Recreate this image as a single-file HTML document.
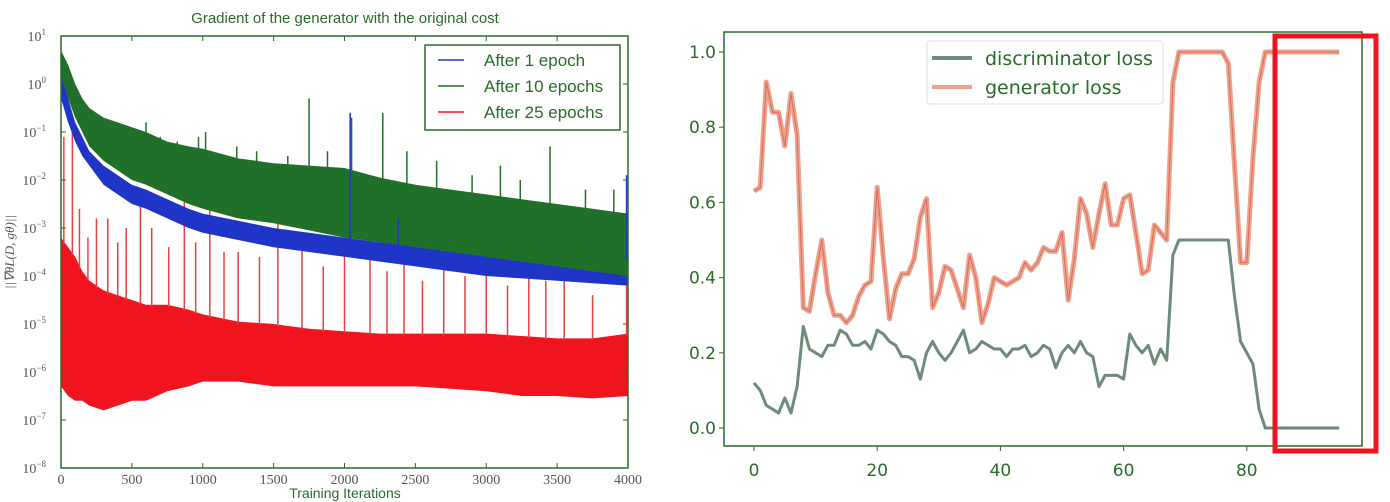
<!DOCTYPE html>
<html><head><meta charset="utf-8"><style>
body{margin:0;background:#fff;}
svg{display:block;font-family:"Liberation Sans",sans-serif;}
</style></head><body>
<svg id="chart" width="1390" height="502" viewBox="0 0 1390 502" xmlns="http://www.w3.org/2000/svg">
<rect x="0" y="0" width="1390" height="502" fill="#fff"/>
<g id="left"></g>
<g id="right"></g>
</svg>
<script>
// ---- Left chart data (log10 values) ----
const iters = [0,50,100,150,200,300,400,500,600,750,900,1000,1250,1500,1750,2000,2250,2500,2750,3000,3250,3500,3750,4000];
const greenUpper = [0.7,0.4,0.0,-0.3,-0.5,-0.7,-0.8,-0.9,-1.0,-1.2,-1.3,-1.35,-1.55,-1.65,-1.7,-1.75,-1.95,-2.1,-2.2,-2.3,-2.4,-2.5,-2.6,-2.7];
const greenLower = [0.2,-0.3,-0.7,-1.0,-1.3,-1.6,-1.8,-2.0,-2.1,-2.3,-2.5,-2.6,-2.8,-2.9,-3.05,-3.2,-3.3,-3.4,-3.5,-3.6,-3.7,-3.8,-3.9,-4.0];
const blueUpper = [0.3,-0.3,-0.8,-1.1,-1.4,-1.7,-1.9,-2.1,-2.2,-2.4,-2.6,-2.7,-2.85,-3.0,-3.1,-3.2,-3.3,-3.35,-3.4,-3.45,-3.5,-3.55,-3.55,-3.6];
const blueLower = [-0.3,-0.8,-1.2,-1.5,-1.7,-2.1,-2.3,-2.5,-2.6,-2.8,-3.0,-3.1,-3.25,-3.4,-3.5,-3.6,-3.7,-3.8,-3.9,-4.0,-4.05,-4.1,-4.15,-4.2];
const redUpper = [-3.2,-3.4,-3.6,-3.9,-4.1,-4.3,-4.4,-4.5,-4.6,-4.6,-4.7,-4.8,-4.95,-5.0,-5.1,-5.15,-5.2,-5.2,-5.2,-5.2,-5.25,-5.3,-5.3,-5.2];
const redLower = [-6.3,-6.5,-6.6,-6.6,-6.7,-6.8,-6.7,-6.6,-6.6,-6.4,-6.3,-6.2,-6.2,-6.3,-6.3,-6.3,-6.3,-6.3,-6.35,-6.4,-6.5,-6.5,-6.55,-6.5];
const greenSpikes = [[240,-0.7],[330,-0.8],[420,-0.95],[600,-0.8],[700,-1.1],[820,-1.2],[970,-1.1],[1020,-1.0],[1240,-1.3],[1380,-1.4],[1600,-1.5],[1750,-0.3],[1880,-1.4],[2050,-0.7],[2270,-0.6],[2440,-1.4],[2650,-1.6],[2900,-1.9],[3100,-1.7],[3240,-2.0],[3450,-1.3],[3700,-2.2],[3900,-2.2]];
const blueSpikes = [[2040,-0.6],[2380,-2.8],[3990,-1.9]];
const redSpikes = [[20,-1.1],[80,-0.8],[130,-2.6],[190,-3.2],[250,-2.8],[330,-2.8],[400,-3.3],[460,-3.0],[560,-2.5],[640,-3.0],[760,-3.4],[870,-1.8],[950,-3.3],[1050,-1.9],[1150,-3.5],[1250,-3.5],[1400,-3.6],[1530,-2.0],[1700,-3.3],[1850,-3.8],[2000,-3.5],[2180,-2.4],[2300,-3.9],[2420,-3.3],[2550,-4.1],[2700,-3.4],[2850,-4.0],[3000,-3.6],[3150,-4.2],[3300,-3.3],[3420,-4.1],[3550,-3.5],[3750,-4.4],[3990,-4.0]];
const xTicksL = [0,500,1000,1500,2000,2500,3000,3500,4000];
const yTicksL = [1,0,-1,-2,-3,-4,-5,-6,-7,-8];
// ---- Right chart data ----
const epochs = Array.from({length:96},(_,i)=>i);
const genLoss = [0.63,0.64,0.92,0.84,0.84,0.75,0.89,0.78,0.32,0.31,0.41,0.50,0.36,0.30,0.30,0.28,0.30,0.35,0.38,0.39,0.64,0.45,0.29,0.37,0.41,0.41,0.45,0.56,0.61,0.32,0.36,0.43,0.42,0.37,0.32,0.46,0.40,0.28,0.33,0.40,0.39,0.38,0.39,0.40,0.44,0.42,0.44,0.48,0.47,0.47,0.52,0.34,0.45,0.61,0.57,0.48,0.57,0.65,0.54,0.54,0.61,0.62,0.52,0.41,0.42,0.54,0.52,0.50,0.92,1.0,1.0,1.0,1.0,1.0,1.0,1.0,1.0,0.97,0.70,0.44,0.44,0.72,0.92,1.0,1.0,1.0,1.0,1.0,1.0,1.0,1.0,1.0,1.0,1.0,1.0,1.0];
const discLoss = [0.12,0.10,0.06,0.05,0.04,0.08,0.04,0.11,0.27,0.21,0.20,0.19,0.22,0.22,0.26,0.25,0.22,0.22,0.23,0.21,0.26,0.25,0.23,0.22,0.19,0.19,0.18,0.13,0.20,0.23,0.20,0.18,0.20,0.23,0.26,0.20,0.21,0.23,0.22,0.21,0.21,0.19,0.21,0.21,0.22,0.19,0.20,0.22,0.21,0.16,0.20,0.22,0.20,0.23,0.20,0.19,0.11,0.14,0.14,0.14,0.13,0.25,0.22,0.20,0.22,0.17,0.21,0.18,0.46,0.50,0.50,0.50,0.50,0.50,0.50,0.50,0.50,0.50,0.35,0.23,0.20,0.17,0.05,0.0,0.0,0.0,0.0,0.0,0.0,0.0,0.0,0.0,0.0,0.0,0.0,0.0];
const xTicksR = [0,20,40,60,80];
const yTicksR = [0.0,0.2,0.4,0.6,0.8,1.0];

const NS="http://www.w3.org/2000/svg";
function mk(tag,attrs,parent,text){const e=document.createElementNS(NS,tag);for(const k in attrs)e.setAttribute(k,attrs[k]);if(text!==undefined)e.textContent=text;parent.appendChild(e);return e;}
const GREEN="#2a6b2a";

// ---------- LEFT ----------
const L=document.getElementById('left');
const lx=v=>61+(v/4000)*567;
const ly=v=>36+(1-v)*48;
let t=mk('text',{x:345,y:23,'text-anchor':'middle','font-size':15,fill:GREEN},L,'Gradient of the generator with the original cost');


function band(up,lo,color,name){
  let pts=iters.map((x,i)=>lx(x)+','+ly(up[i]));
  for(let i=iters.length-1;i>=0;i--)pts.push(lx(iters[i])+','+ly(lo[i]));
  const p=mk('polygon',{points:pts.join(' '),fill:color},L);
  
  
}
function interp(arr,x){
  let k=0;while(k<iters.length-1&&iters[k+1]<=x)k++;
  const k2=Math.min(k+1,iters.length-1);const f=iters[k2]===iters[k]?0:(x-iters[k])/(iters[k2]-iters[k]);
  return arr[k]+(arr[k2]-arr[k])*f;
}
function spikes(arr,up,color,name){
  arr.forEach(s=>{
    const base=interp(up,s[0]);
    const l=mk('line',{x1:lx(s[0]),x2:lx(s[0]),y1:ly(base)+2,y2:ly(s[1]),stroke:color,'stroke-width':1.5},L);
    
    
  });
}
band(redUpper,redLower,'#f0141f','red-series-band');
spikes(redSpikes,redUpper,'#e84040','red-spike');
band(blueUpper,blueLower,'#1f35c8','blue-series-band');
band(greenUpper,greenLower,'#21702a','green-series-band');
spikes(greenSpikes,greenUpper,'#21702a','green-spike');
spikes(blueSpikes,blueUpper,'#1f35c8','blue-spike');
let fr=mk('rect',{x:61,y:36,width:567,height:432,fill:'none',stroke:GREEN,'stroke-width':1.5},L);


xTicksL.forEach(v=>{
  mk('line',{x1:lx(v),x2:lx(v),y1:468,y2:463,stroke:GREEN},L);
  mk('line',{x1:lx(v),x2:lx(v),y1:36,y2:41,stroke:GREEN},L);
  const tx=mk('text',{x:lx(v),y:484,'text-anchor':'middle','font-size':14,'font-family':'Liberation Serif, serif',fill:'#555'},L,String(v));
  
  
});
yTicksL.forEach(v=>{
  mk('line',{x1:61,x2:66,y1:ly(v),y2:ly(v),stroke:GREEN},L);
  mk('line',{x1:628,x2:623,y1:ly(v),y2:ly(v),stroke:GREEN},L);
  const tx=mk('text',{x:46,y:ly(v)+5,'text-anchor':'end','font-size':14,'font-family':'Liberation Serif, serif',fill:'#555'},L,'10');
  mk('tspan',{dy:-6,'font-size':9},tx,v>=0?String(v):'\u2212'+(-v));
  
  
});
t=mk('text',{x:345,y:498,'text-anchor':'middle','font-size':14,fill:GREEN},L,'Training Iterations');


t=mk('text',{x:14,y:252,'text-anchor':'middle','font-size':13,'font-family':'Liberation Serif, serif','font-style':'italic',fill:'#555',transform:'rotate(-90 14 252)'},L,'||\u2207\u03b8L(D, g\u03b8)||');


const lg=mk('g',{},L);


mk('rect',{x:425,y:45,width:195,height:85,fill:'#fff',stroke:GREEN,'stroke-width':1.5},lg);
[['After 1 epoch','#1f35c8'],['After 10 epochs','#21702a'],['After 25 epochs','#f0141f']].forEach((e,i)=>{
  const y=60+i*26;
  mk('line',{x1:438,x2:464,y1:y,y2:y,stroke:e[1],'stroke-width':1.5},lg);
  const tx=mk('text',{x:484,y:y+6,'font-size':17,fill:GREEN},lg,e[0]);
  
  
});

// ---------- RIGHT ----------
const R=document.getElementById('right');
const rx=v=>754+v*6.16;
const ry=v=>428-v*376;
fr=mk('rect',{x:724,y:32,width:638,height:414,fill:'#fff',stroke:GREEN,'stroke-width':1.5},R);


xTicksR.forEach(v=>{
  mk('line',{x1:rx(v),x2:rx(v),y1:446,y2:451,stroke:GREEN},R);
  const tx=mk('text',{x:rx(v),y:476,'text-anchor':'middle','font-size':17,'font-family':'DejaVu Sans, sans-serif',fill:GREEN},R,String(v));
  
  
});
yTicksR.forEach(v=>{
  mk('line',{x1:719,x2:724,y1:ry(v),y2:ry(v),stroke:GREEN},R);
  const tx=mk('text',{x:716,y:ry(v)+6,'text-anchor':'end','font-size':17,'font-family':'DejaVu Sans, sans-serif',fill:GREEN},R,v.toFixed(1));
  
  
});
function line(data,color,w,name,inner){
  const d=epochs.map((x,i)=>(i?'L':'M')+rx(x).toFixed(1)+' '+ry(data[i]).toFixed(1)).join(' ');
  const p=mk('path',{d:d,fill:'none',stroke:color,'stroke-width':w,'stroke-linejoin':'round'},R);
  
  
  if(inner){mk('path',{d:d,fill:'none',stroke:inner,'stroke-width':1,opacity:0.6},R);}
}
line(genLoss,'#eba48c',5,'generator-loss-line','#d84040');
line(discLoss,'#6e8a7a',3,'discriminator-loss-line');
const rl=mk('g',{},R);


mk('rect',{x:927,y:41,width:236,height:63,fill:'#fff',stroke:'#ddd',rx:3},rl);
[['discriminator loss','#6e8a7a'],['generator loss','#eba48c']].forEach((e,i)=>{
  const y=58+i*29;
  mk('line',{x1:932,x2:972,y1:y,y2:y,stroke:e[1],'stroke-width':4},rl);
  const tx=mk('text',{x:985,y:y+7,'font-size':19,'font-family':'DejaVu Sans, sans-serif',fill:GREEN},rl,e[0]);
  
  
});
const hb=mk('rect',{x:1275,y:36,width:101,height:415,fill:'none',stroke:'#f0141f','stroke-width':5},R);


</script>
</body></html>
